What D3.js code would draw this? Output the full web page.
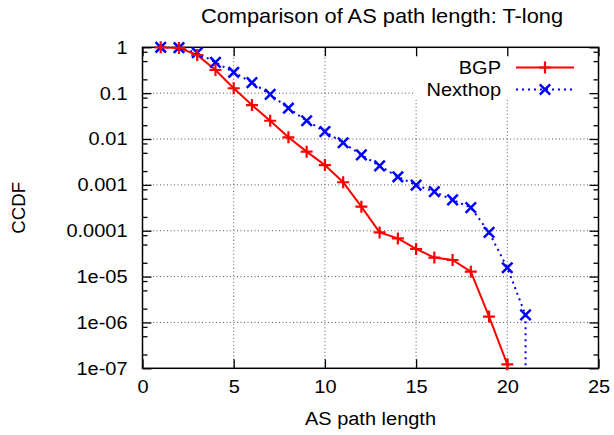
<!DOCTYPE html>
<html>
<head>
<meta charset="utf-8">
<script src="https://cdn.jsdelivr.net/npm/d3@7"></script>
<style>
  html, body { margin: 0; padding: 0; background: #fff; }
  svg { display: block; font-family: "Liberation Sans", Arial, Helvetica, sans-serif; }
</style>
</head>
<body>
<svg id="chart" width="614" height="435"></svg>
<script>
// ---- data ----
const titleText = "Comparison of AS path length: T-long";
const xLabelText = "AS path length";
const yLabelText = "CCDF";
const seriesNames = ["BGP", "Nexthop"];

const bgpX = [1, 2, 3, 4, 5, 6, 7, 8, 9, 10, 11, 12, 13, 14, 15, 16, 17, 18, 19, 20];
const bgpY = [1, 0.97, 0.68, 0.32, 0.128, 0.055, 0.025, 0.0109, 0.0053, 0.0027,
              0.00114, 0.000334, 9.2e-5, 6.8e-5, 4.0e-5, 2.6e-5, 2.3e-5, 1.28e-5, 1.34e-6, 1.22e-7];

const nexthopX = [1, 2, 3, 4, 5, 6, 7, 8, 9, 10, 11, 12, 13, 14, 15, 16, 17, 18, 19, 20, 21, 21];
const nexthopY = [1, 0.98, 0.76, 0.47, 0.285, 0.17, 0.094, 0.047, 0.025, 0.0145,
                  0.0083, 0.0045, 0.0026, 0.0015, 0.00099, 0.00071, 0.00047, 0.00032,
                  9.2e-5, 1.56e-5, 1.46e-6, 1e-9];

const xTicks = [0, 5, 10, 15, 20, 25];
const yTicks = [1, 0.1, 0.01, 0.001, 0.0001, 1e-5, 1e-6, 1e-7];
const yTickLabels = ["1", "0.1", "0.01", "0.001", "0.0001", "1e-05", "1e-06", "1e-07"];
const yMinorMult = [2, 5, 8];

// ---- layout ----
const pL = 142.5, pR = 598.5, pT = 47.3, pB = 368.3;
const FONT = 18.6;
const SX = 1.075;   // horizontal glyph stretch seen in the reference

const svg = d3.select("#chart");
const x = d3.scaleLinear().domain([0, 25]).range([pL, pR]);
const y = d3.scaleLog().domain([1e-7, 1]).range([pB, pT]);

// clip
svg.append("defs").append("clipPath").attr("id", "clip")
  .append("rect").attr("x", pL).attr("y", pT).attr("width", pR - pL).attr("height", pB - pT);

// grid
const grid = svg.append("g");
grid.selectAll("line.gx").data(xTicks.filter(d => d > 0 && d < 25)).join("line")
  .attr("x1", d => x(d)).attr("x2", d => x(d)).attr("y1", pT).attr("y2", pB)
  .attr("stroke", "#555").attr("stroke-width", 1).attr("stroke-dasharray", "1,2.5");
grid.selectAll("line.gy").data(yTicks.filter(d => d < 1 && d > 1e-7)).join("line")
  .attr("x1", pL).attr("x2", pR).attr("y1", d => y(d)).attr("y2", d => y(d))
  .attr("stroke", "#555").attr("stroke-width", 1).attr("stroke-dasharray", "1,2.5");

// key blank area
svg.append("rect").attr("x", 414).attr("y", pT + 1).attr("width", pR - 415).attr("height", 51)
  .attr("fill", "#fff");

// axes via d3 axis generators (ticks inward)
const minorTicks = [];
yTicks.slice(0, -1).forEach(t => yMinorMult.forEach(m => minorTicks.push(t / 10 * m)));

function styleAxis(g) {
  g.select(".domain").remove();
  g.selectAll(".tick line").attr("stroke", "#000").attr("stroke-width", 1.3);
}
const fmtY = d => yTickLabels[yTicks.findIndex(t => Math.abs(Math.log10(t) - Math.log10(d)) < 1e-6)];

svg.append("g").attr("transform", `translate(${pL},0)`)
  .call(d3.axisLeft(y).tickValues(yTicks).tickSize(-9).tickPadding(15).tickFormat(fmtY))
  .call(styleAxis)
  .call(g => g.selectAll("text").attr("font-size", FONT).attr("fill", "#000").attr("class", "stretch")
    .attr("font-family", "Liberation Sans, Arial, sans-serif"));
svg.append("g").attr("transform", `translate(${pL},0)`)
  .call(d3.axisLeft(y).tickValues(minorTicks).tickSize(-5).tickFormat(""))
  .call(styleAxis);
svg.append("g").attr("transform", `translate(${pR},0)`)
  .call(d3.axisRight(y).tickValues(yTicks).tickSize(-9).tickFormat(""))
  .call(styleAxis);
svg.append("g").attr("transform", `translate(${pR},0)`)
  .call(d3.axisRight(y).tickValues(minorTicks).tickSize(-5).tickFormat(""))
  .call(styleAxis);
svg.append("g").attr("transform", `translate(0,${pB})`)
  .call(d3.axisBottom(x).tickValues(xTicks).tickSize(-9).tickPadding(12).tickFormat(d3.format("d")))
  .call(styleAxis)
  .call(g => g.selectAll("text").attr("font-size", FONT).attr("fill", "#000").attr("class", "stretch")
    .attr("font-family", "Liberation Sans, Arial, sans-serif"));
svg.append("g").attr("transform", `translate(0,${pT})`)
  .call(d3.axisTop(x).tickValues(xTicks).tickSize(-9).tickFormat(""))
  .call(styleAxis);

// border
svg.append("rect").attr("x", pL).attr("y", pT).attr("width", pR - pL).attr("height", pB - pT)
  .attr("fill", "none").attr("stroke", "#000").attr("stroke-width", 1.5);

// series
const bgp = bgpX.map((d, i) => ({x: d, y: bgpY[i]}));
const nh = nexthopX.map((d, i) => ({x: d, y: nexthopY[i]}));
const line = d3.line().x(d => x(d.x)).y(d => y(Math.max(d.y, 1e-12)));

const plot = svg.append("g");
plot.append("path").datum(nh).attr("clip-path", "url(#clip)")
  .attr("d", line).attr("fill", "none").attr("stroke", "#0000ff").attr("stroke-width", 2)
  .attr("stroke-dasharray", "2,4");
plot.append("path").datum(bgp).attr("clip-path", "url(#clip)")
  .attr("d", line).attr("fill", "none").attr("stroke", "#ff0000").attr("stroke-width", 2);

const plusPath = s => `M${-s},0H${s}M0,${-s}V${s}`;
const crossPath = s => `M${-s},${-s}L${s},${s}M${-s},${s}L${s},${-s}`;

plot.selectAll("path.nhm").data(nh.filter(d => d.y >= 1e-7)).join("path")
  .attr("transform", d => `translate(${x(d.x)},${y(d.y)})`)
  .attr("d", crossPath(5.2)).attr("stroke", "#0000ff").attr("stroke-width", 2.5).attr("fill", "none");
plot.selectAll("path.bgpm").data(bgp.filter(d => d.y >= 1e-7)).join("path")
  .attr("transform", d => `translate(${x(d.x)},${y(d.y)})`)
  .attr("d", plusPath(6)).attr("stroke", "#ff0000").attr("stroke-width", 2.2).attr("fill", "none");

// legend
const leg = svg.append("g");
const rows = [
  {name: seriesNames[0], color: "#ff0000", dash: null, marker: plusPath(6), mw: 2.2},
  {name: seriesNames[1], color: "#0000ff", dash: "2,4", marker: crossPath(5.2), mw: 2.5}
];
rows.forEach((r, i) => {
  const cy = 67.5 + i * 22;
  leg.append("text").attr("x", 501).attr("y", cy).attr("dy", "0.36em").attr("class", "stretch")
    .attr("text-anchor", "end").attr("font-size", FONT).attr("fill", "#000").text(r.name);
  leg.append("line").attr("x1", 516).attr("x2", 574).attr("y1", cy).attr("y2", cy)
    .attr("stroke", r.color).attr("stroke-width", 2).attr("stroke-dasharray", r.dash);
  leg.append("path").attr("transform", `translate(545,${cy})`).attr("d", r.marker)
    .attr("stroke", r.color).attr("stroke-width", r.mw).attr("fill", "none");
});

// titles
svg.append("text").attr("x", 382).attr("y", 23).attr("text-anchor", "middle").attr("class", "stretch")
  .attr("font-size", 20.3).attr("fill", "#000").text(titleText);
svg.append("text").attr("x", (pL + pR) / 2).attr("y", 425).attr("text-anchor", "middle").attr("class", "stretch")
  .attr("font-size", FONT).attr("fill", "#000").text(xLabelText);
svg.append("text").attr("transform", `translate(25,${(pT + pB) / 2}) rotate(-90)`)
  .attr("text-anchor", "middle").attr("font-size", FONT).attr("fill", "#000").text(yLabelText);

// horizontal stretch keeping each text's anchor x fixed
svg.selectAll("text.stretch").each(function() {
  const t = d3.select(this);
  const x0 = +t.attr("x") || 0;
  t.attr("transform", `translate(${x0 * (1 - SX)},0) scale(${SX},1)`);
});
</script>
</body>
</html>
